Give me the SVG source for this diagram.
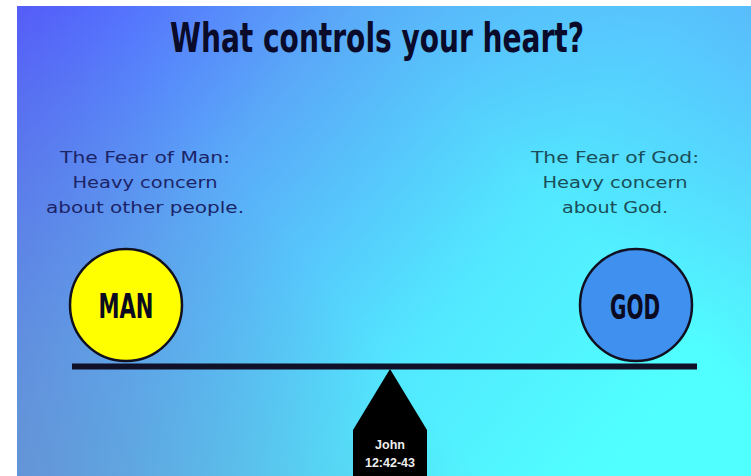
<svg xmlns="http://www.w3.org/2000/svg" width="751" height="476" viewBox="0 0 751 476">
<defs>
<linearGradient id="bg" gradientUnits="userSpaceOnUse" x1="17" y1="6" x2="600" y2="476">
<stop offset="0" stop-color="#5258ff"/>
<stop offset="0.35" stop-color="#5aaaf8"/>
<stop offset="0.7" stop-color="#52e8ff"/>
<stop offset="1" stop-color="#50ffff"/>
</linearGradient>
<linearGradient id="shade" gradientUnits="userSpaceOnUse" x1="17" y1="476" x2="300" y2="250">
<stop offset="0" stop-color="#6a80c0" stop-opacity="0.6"/>
<stop offset="1" stop-color="#6a80c0" stop-opacity="0"/>
</linearGradient>
<linearGradient id="tr" gradientUnits="userSpaceOnUse" x1="751" y1="6" x2="550" y2="200">
<stop offset="0" stop-color="#5ab0fc" stop-opacity="0.8"/>
<stop offset="1" stop-color="#5ab0fc" stop-opacity="0"/>
</linearGradient>
<style>
.title{font-family:"DejaVu Sans Condensed","Liberation Sans Narrow","Liberation Sans",sans-serif;font-weight:bold;font-size:41px;fill:#0a0a2a;text-anchor:middle}
.desc{font-family:"DejaVu Sans",Verdana,sans-serif;font-size:16px;text-anchor:middle}
.lbl{font-family:"DejaVu Sans Condensed","Liberation Sans Narrow","Liberation Sans",sans-serif;font-weight:bold;font-size:33px;fill:#0a0a20;text-anchor:middle}
.ball{stroke:#101020;stroke-width:2.5}
.ref{font-family:"Liberation Sans","DejaVu Sans",sans-serif;font-weight:bold;font-size:12.5px;fill:#eeeeee;text-anchor:middle}
</style>
</defs>
<rect x="0" y="0" width="751" height="476" fill="#ffffff"/>
<rect x="17" y="6" width="734" height="470" fill="url(#bg)"/>
<rect x="17" y="6" width="734" height="470" fill="url(#shade)"/>
<rect x="17" y="6" width="734" height="470" fill="url(#tr)"/>
<text class="title" x="377" y="52" textLength="414" lengthAdjust="spacingAndGlyphs">What controls your heart?</text>
<g id="left-desc" class="desc" fill="#1c2468">
<text x="145" y="163" textLength="170" lengthAdjust="spacingAndGlyphs">The Fear of Man:</text>
<text x="145" y="188" textLength="145" lengthAdjust="spacingAndGlyphs">Heavy concern</text>
<text x="145" y="213" textLength="198" lengthAdjust="spacingAndGlyphs">about other people.</text>
</g>
<g id="right-desc" class="desc" fill="#1a4e58">
<text x="615" y="163" textLength="168" lengthAdjust="spacingAndGlyphs">The Fear of God:</text>
<text x="615" y="188" textLength="145" lengthAdjust="spacingAndGlyphs">Heavy concern</text>
<text x="615" y="213" textLength="106" lengthAdjust="spacingAndGlyphs">about God.</text>
</g>
<g id="connectors">
<line x1="72" y1="366.5" x2="697" y2="366.5" stroke="#101028" stroke-width="6"/>
</g>
<g id="man">
<circle class="ball" cx="126" cy="305" r="56" fill="#ffff00"/>
<text class="lbl" x="126" y="318" textLength="55" lengthAdjust="spacingAndGlyphs">MAN</text>
</g>
<g id="god">
<circle class="ball" cx="636" cy="305" r="56" fill="#4090f0"/>
<text class="lbl" x="635" y="319" textLength="50" lengthAdjust="spacingAndGlyphs">GOD</text>
</g>
<g id="fulcrum">
<polygon points="390,369 427,430 427,476 353,476 353,430" fill="#000000"/>
<text class="ref" x="390" y="449">John</text>
<text class="ref" x="390" y="467">12:42-43</text>
</g>
</svg>
